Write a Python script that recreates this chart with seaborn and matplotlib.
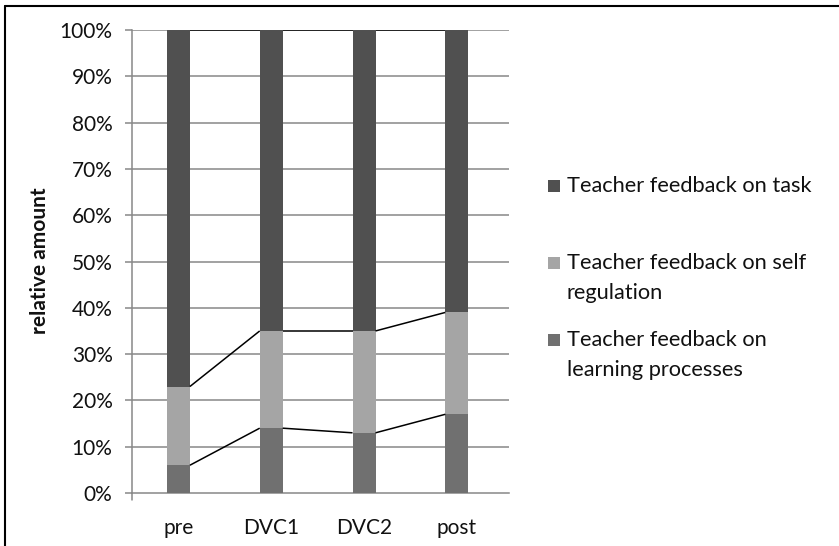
import matplotlib
matplotlib.use("Agg")
import matplotlib.pyplot as plt
from matplotlib.lines import Line2D
from matplotlib.patches import Rectangle
import seaborn as sns
import pandas as pd
import numpy as np

# ---- data (percent) ----
categories = ["pre", "DVC1", "DVC2", "post"]
learning_processes = [6, 14, 13, 17]
self_regulation = [17, 21, 22, 22]
task = [77, 65, 65, 61]
legend_labels = ["Teacher feedback on task",
                 "Teacher feedback on self\nregulation",
                 "Teacher feedback on\nlearning processes"]
yticks = list(range(0, 101, 10))
ytick_labels = [f"{v}%" for v in yticks]
y_label = "relative amount"

colors = {"task": "#505050", "self": "#A5A5A5", "learn": "#707070"}
grid_col = "#888888"

sns.set_style("white")
plt.rcParams["font.family"] = ["Lato", "DejaVu Sans"]

W, H = 839, 546
fig = plt.figure(figsize=(W / 100, H / 100), dpi=100)
ax_l, ax_r, ax_t, ax_b = 132, 509, 30, 493
ax = fig.add_axes([ax_l / W, 1 - ax_b / H, (ax_r - ax_l) / W, (ax_b - ax_t) / H])

cum1 = np.array(learning_processes, dtype=float)
cum2 = cum1 + np.array(self_regulation)
cum3 = cum2 + np.array(task)

df = pd.DataFrame({"cat": categories, "c1": cum1, "c2": cum2, "c3": cum3})
bw = 0.248
for col, c in [("c3", colors["task"]), ("c2", colors["self"]), ("c1", colors["learn"])]:
    sns.barplot(data=df, x="cat", y=col, color=c, width=bw, linewidth=0,
                saturation=1, ax=ax, zorder=3, order=categories)

# series lines
for cum in (cum1, cum2, cum3):
    for i in range(len(categories) - 1):
        ax.plot([i + bw / 2, i + 1 - bw / 2], [cum[i], cum[i + 1]],
                color="black", lw=1.1, zorder=4, solid_capstyle="butt")

ax.set_ylim(0, 100)
ax.set_xlim(-0.5, 3.562)
ax.set_yticks(yticks)
ax.set_yticklabels(ytick_labels)
ax.set_xlabel("")
ax.set_ylabel("")
for v in yticks[1:]:
    ax.axhline(v, color=grid_col, lw=1.1, zorder=1)

for s in ("top", "right"):
    ax.spines[s].set_visible(False)
for s in ("left", "bottom"):
    ax.spines[s].set_color(grid_col)
    ax.spines[s].set_linewidth(1.1)
ax.tick_params(axis="y", length=5, width=1.1, color=grid_col, pad=9,
               labelsize=15, labelcolor="#111111", left=True)
ax.tick_params(axis="x", length=0, pad=18, labelsize=15, labelcolor="#111111")
# single category tick at the left end of the x axis
ax.plot([0, 0], [0, -7 / (ax_b - ax_t)], transform=ax.transAxes,
        color=grid_col, lw=1.1, clip_on=False)

fig.text(40 / W, 1 - 261 / H, y_label, rotation=90, ha="center", va="center",
         fontsize=15, fontweight="bold", color="#111111")

# legend
leg_colors = [colors["task"], colors["self"], colors["learn"]]
leg_rows = [186, 263, 340]
line_step = 30
for lab, c, yc in zip(legend_labels, leg_colors, leg_rows):
    fig.patches.append(Rectangle((548 / W, 1 - (yc + 6) / H), 12 / W, 12 / H,
                                 transform=fig.transFigure, facecolor=c,
                                 edgecolor="none", figure=fig))
    for k, line in enumerate(lab.split("\n")):
        fig.text(567 / W, 1 - (yc + k * line_step) / H, line, ha="left",
                 va="center", fontsize=15.7, color="#111111")

# outer frame (top and left edges visible)
fig.lines.append(Line2D([5 / W, 5 / W], [0, 1 - 6 / H], transform=fig.transFigure,
                        color="black", lw=1.5))
fig.lines.append(Line2D([5 / W, 1], [1 - 6 / H, 1 - 6 / H], transform=fig.transFigure,
                        color="black", lw=1.5))

fig.savefig("out.png", dpi=100)
